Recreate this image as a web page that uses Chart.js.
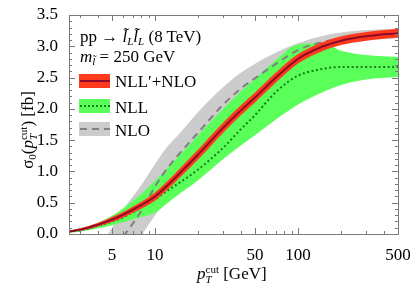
<!DOCTYPE html>
<html>
<head>
<meta charset="utf-8">
<script src="https://cdn.jsdelivr.net/npm/chart.js"></script>
<style>
  body { margin: 0; background: #fff; }
  #wrap { position: relative; width: 415px; height: 287px; font-family: "Liberation Serif", "Times New Roman", Times, "DejaVu Serif", serif; color: #000; }
  #wrap canvas { position: absolute; left: 0; top: 0; }
  .lbl { position: absolute; white-space: nowrap; font-size: 17px; line-height: 1; }
  .lbl sub { font-size: 11px; vertical-align: -3px; }
  .ss { display: inline-block; vertical-align: -4px; font-size: 11px; line-height: 10px; text-align: left; }
  .ss span { display: block; }
  #ytitle { transform: rotate(-90deg); transform-origin: center center; }
</style>
</head>
<body>
<div id="wrap">
  <canvas id="chart" width="415" height="287"></canvas>
  <div class="lbl" style="left:80px; top:28px;">pp → <i>l̃</i><sub><i>L</i></sub><i>l̃</i><sub><i>L</i></sub> (8 TeV)</div>
  <div class="lbl" style="left:80px; top:48px;"><i>m</i><sub><i>l̃</i></sub> = 250 GeV</div>
  <div class="lbl" style="left:115px; top:73px;">NLL′+NLO</div>
  <div class="lbl" style="left:115px; top:99px;">NLL</div>
  <div class="lbl" style="left:115px; top:122px;">NLO</div>
  <div class="lbl" id="ytitle" style="left:-30px; top:120px; width:116px; text-align:center;">σ<sub>0</sub>(<i>p</i><span class="ss"><span>cut</span><span><i>T</i></span></span>) [fb]</div>
  <div class="lbl" style="left:197px; top:264px;"><i>p</i><span class="ss"><span>cut</span><span><i>T</i></span></span> [GeV]</div>
</div>
<script>
// pT cut values (GeV)
const ptCut = [2.5, 3, 4, 5, 6, 7, 8, 10, 12, 15, 20, 30, 40, 50, 70, 100, 150, 200, 300, 500];

// NLO (gray, dashed) central and band
const nloCentral = [-1.3, -1.0, -0.6, -0.3, -0.04, 0.17, 0.37, 0.76, 1.03, 1.3, 1.62, 2.07, 2.33, 2.49, 2.72, 2.94, 3.07, 3.13, 3.18, 3.2];
const nloUpper   = [-1.0, -0.7, -0.25, 0.1, 0.4, 0.6, 0.78, 1.12, 1.38, 1.62, 1.95, 2.35, 2.58, 2.72, 2.9, 3.05, 3.17, 3.22, 3.26, 3.28];
const nloLower   = [-2.5, -2.1, -1.5, -1.1, -0.7, -0.4, -0.05, 0.3, 0.57, 0.93, 1.3, 1.73, 2.05, 2.25, 2.5, 2.76, 2.95, 3.04, 3.1, 3.13];

// NLL (green, dotted) central and band
const nllCentral = [0.035, 0.06, 0.13, 0.2, 0.27, 0.35, 0.42, 0.55, 0.68, 0.83, 1.03, 1.38, 1.68, 1.9, 2.27, 2.53, 2.64, 2.67, 2.67, 2.67];
const nllUpper   = [0.05, 0.09, 0.18, 0.29, 0.41, 0.53, 0.64, 0.85, 1.03, 1.27, 1.58, 2.0, 2.28, 2.48, 2.78, 3.03, 3.05, 2.93, 2.86, 2.83];
const nllLower   = [0.02, 0.04, 0.09, 0.14, 0.19, 0.23, 0.27, 0.34, 0.48, 0.65, 0.86, 1.2, 1.42, 1.58, 1.83, 2.07, 2.27, 2.38, 2.47, 2.51];

// NLL'+NLO (red) central and band
const matchedCentral = [0.04, 0.07, 0.15, 0.23, 0.31, 0.39, 0.46, 0.6, 0.76, 0.98, 1.27, 1.7, 1.98, 2.18, 2.5, 2.8, 3.0, 3.09, 3.16, 3.21];
const matchedUpper   = [0.055, 0.09, 0.18, 0.27, 0.355, 0.44, 0.515, 0.665, 0.83, 1.055, 1.35, 1.78, 2.06, 2.26, 2.58, 2.875, 3.07, 3.16, 3.23, 3.28];
const matchedLower   = [0.025, 0.05, 0.12, 0.19, 0.265, 0.34, 0.405, 0.535, 0.69, 0.905, 1.19, 1.62, 1.9, 2.1, 2.42, 2.725, 2.93, 3.02, 3.09, 3.14];

const xLabelTicks = [5, 10, 50, 100, 500];
const xMinorTicks = [3, 4, 6, 7, 8, 9, 20, 30, 40, 60, 70, 80, 90, 200, 300, 400];
const yLabelTicks = [0, 0.5, 1, 1.5, 2, 2.5, 3, 3.5];

const pts = (arr) => ptCut.map((x, i) => ({ x: x, y: arr[i] }));

const FONT = '"Liberation Serif", "Times New Roman", Times, "DejaVu Serif", serif';
const GRAY_BAND = 'rgb(204,204,204)';
const GREEN_BAND = 'rgb(90,255,90)';
const RED_BAND = 'rgb(255,58,28)';
const RED_LINE = 'rgb(140,10,45)';
const GREEN_LINE = 'rgb(20,130,20)';
const GRAY_LINE = 'rgb(128,128,128)';

const base = { pointRadius: 0, borderWidth: 0, cubicInterpolationMode: 'monotone', fill: false };

const frameTicks = {
    id: 'frameTicks',
    afterDraw(chart) {
        const { ctx, chartArea: a, scales: { x, y } } = chart;
        ctx.save();
        ctx.strokeStyle = '#7a7a7a';
        ctx.lineWidth = 1;
        ctx.beginPath();
        const tick = (px, len, vertical) => {
            if (vertical) {
                ctx.moveTo(px, a.bottom); ctx.lineTo(px, a.bottom - len);
                ctx.moveTo(px, a.top); ctx.lineTo(px, a.top + len);
            } else {
                ctx.moveTo(a.left, px); ctx.lineTo(a.left + len, px);
                ctx.moveTo(a.right, px); ctx.lineTo(a.right - len, px);
            }
        };
        xLabelTicks.forEach(v => tick(Math.round(x.getPixelForValue(v)) + 0.5, 6, true));
        xMinorTicks.forEach(v => tick(Math.round(x.getPixelForValue(v)) + 0.5, 3, true));
        for (let v = 0; v <= 3.5001; v += 0.1) {
            const major = Math.abs(v * 2 - Math.round(v * 2)) < 1e-6;
            tick(Math.round(y.getPixelForValue(v)) + 0.5, major ? 6 : 3, false);
        }
        ctx.stroke();
        ctx.strokeRect(a.left + 0.5, a.top + 0.5, a.right - a.left, a.bottom - a.top);

        // legend swatches
        const sw = [
            { y: 74, fill: RED_BAND, line: RED_LINE, dash: [] },
            { y: 99, fill: GREEN_BAND, line: GREEN_LINE, dash: [2, 2] },
            { y: 122, fill: GRAY_BAND, line: GRAY_LINE, dash: [7, 5] }
        ];
        sw.forEach(s => {
            ctx.fillStyle = s.fill;
            ctx.fillRect(79, s.y, 31, 14);
            ctx.strokeStyle = s.line;
            ctx.lineWidth = 2;
            ctx.setLineDash(s.dash);
            ctx.beginPath();
            ctx.moveTo(80, s.y + 7);
            ctx.lineTo(110, s.y + 7);
            ctx.stroke();
        });
        ctx.restore();
    }
};

new Chart(document.getElementById('chart'), {
    type: 'line',
    data: {
        datasets: [
            { ...base, label: 'NLO lower', data: pts(nloLower), order: 10 },
            { ...base, label: 'NLO band', data: pts(nloUpper), fill: 0, backgroundColor: GRAY_BAND, order: 9 },
            { ...base, label: 'NLL lower', data: pts(nllLower), order: 8 },
            { ...base, label: 'NLL band', data: pts(nllUpper), fill: 2, backgroundColor: GREEN_BAND, order: 7 },
            { ...base, label: 'NLO', data: pts(nloCentral), borderWidth: 2, borderColor: GRAY_LINE, borderDash: [7, 5], order: 6 },
            { ...base, label: 'NLL', data: pts(nllCentral), borderWidth: 2, borderColor: GREEN_LINE, borderDash: [2, 2.5], order: 5 },
            { ...base, label: "NLL'+NLO lower", data: pts(matchedLower), order: 4 },
            { ...base, label: "NLL'+NLO band", data: pts(matchedUpper), fill: 6, backgroundColor: RED_BAND, order: 3 },
            { ...base, label: "NLL'+NLO", data: pts(matchedCentral), borderWidth: 2, borderColor: RED_LINE, order: 2 }
        ]
    },
    options: {
        responsive: false,
        animation: false,
        devicePixelRatio: 1,
        layout: { padding: { top: 15, right: 17, left: 0, bottom: 0 } },
        plugins: { legend: { display: false }, tooltip: { enabled: false } },
        scales: {
            x: {
                type: 'logarithmic',
                min: 2.5,
                max: 500,
                grid: { display: false },
                border: { display: false },
                afterBuildTicks: (s) => { s.ticks = xLabelTicks.map(v => ({ value: v })); },
                afterFit: (s) => { s.height = 53; },
                ticks: {
                    autoSkip: false,
                    maxRotation: 0,
                    padding: 3,
                    color: '#000',
                    font: { family: FONT, size: 17 },
                    callback: (v) => String(v)
                }
            },
            y: {
                min: 0,
                max: 3.5,
                grid: { display: false },
                border: { display: false },
                afterBuildTicks: (s) => { s.ticks = yLabelTicks.map(v => ({ value: v })); },
                afterFit: (s) => { s.width = 69; },
                ticks: {
                    padding: 3,
                    color: '#000',
                    font: { family: FONT, size: 17 },
                    callback: (v) => v.toFixed(1)
                }
            }
        }
    },
    plugins: [frameTicks]
});
</script>
</body>
</html>
